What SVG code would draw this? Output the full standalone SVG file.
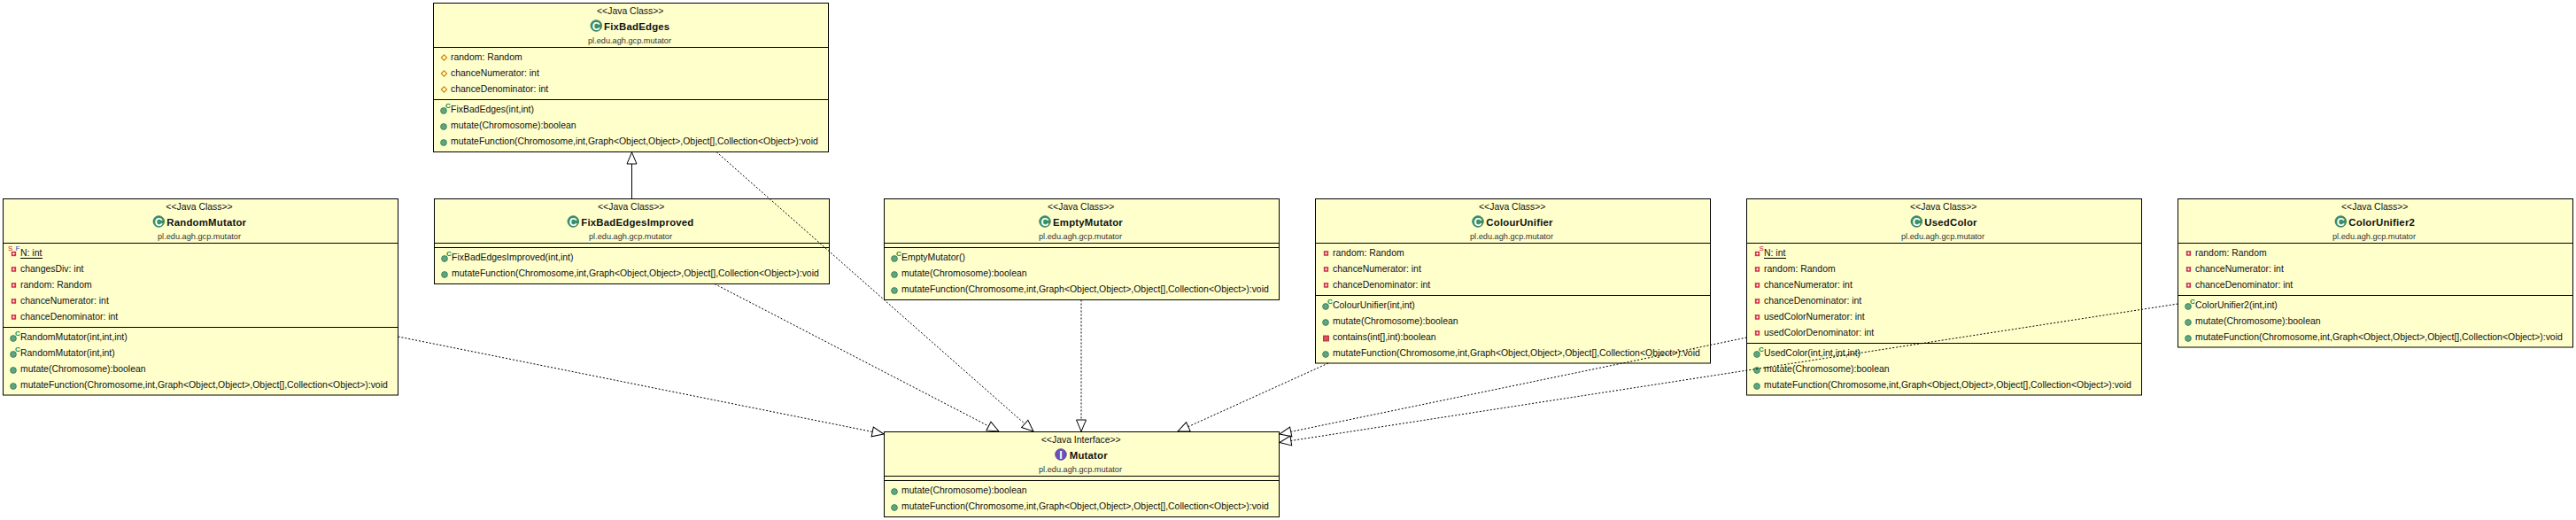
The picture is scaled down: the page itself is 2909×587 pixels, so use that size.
<svg xmlns="http://www.w3.org/2000/svg" xmlns:xlink="http://www.w3.org/1999/xlink" width="2909" height="587" viewBox="0 0 2909 587">
<style>
text{font-family:"Liberation Sans",Arial,sans-serif;fill:#111}
.box{fill:#ffffcc;stroke:#000;stroke-width:1}
.sep{stroke:#000;stroke-width:1}
.st{font-size:10.45px;text-anchor:middle}
.nm{font-size:11.4px;font-weight:bold;letter-spacing:.2px}
.pk{font-size:9.2px;text-anchor:middle;fill:#333}
.m{font-size:10.45px}
.cl{font-size:12.5px;font-weight:bold;fill:#fff;text-anchor:middle}
.k{font-size:8px;font-weight:bold;fill:#0a8a3a}
.s{font-size:8px;fill:#c01040}
.f{font-size:8px;fill:#2050c0}
.u{stroke:#000;stroke-width:1}
.dep{fill:none;stroke:#000;stroke-width:1;stroke-dasharray:2 2;marker-end:url(#tri)}
.gen{fill:none;stroke:#000;stroke-width:1;marker-end:url(#tri)}
</style>
<defs>
<marker id="tri" markerUnits="userSpaceOnUse" markerWidth="16" markerHeight="14" viewBox="0 0 16 14" refX="14.5" refY="7" orient="auto"><path d="M14.5 7 L1.5 1.5 L1.5 12.5 Z" fill="#fff" stroke="#000" stroke-width="1"/></marker>
<circle id="pub" r="3.4" fill="#5fa67e" stroke="#2f7a55" stroke-width=".8"/>
<g id="prv"><rect x="-2.4" y="-2.4" width="4.8" height="4.8" fill="#d8344c" stroke="#b02038" stroke-width=".5"/><path d="M-1.3 0H1.3M0-1.3V1.3" stroke="#fff" stroke-width=".9"/></g>
<rect id="prvm" x="-3" y="-3" width="6" height="6" fill="#e04a5c" stroke="#a8202f" stroke-width=".8"/>
<path id="pro" d="M0-3.2 L3.2 0 L0 3.2 L-3.2 0 Z" fill="#ffffcc" stroke="#c88410" stroke-width="1.1"/>
<g id="cls"><circle r="6.3" fill="#3a9068" stroke="#2a7a55" stroke-width=".8"/></g>
<g id="ifc"><circle r="6.3" fill="#6a50b8" stroke="#503a9a" stroke-width=".8"/></g>
</defs>
<g id="RandomMutator">
<rect class="box" x="3.5" y="224.5" width="446" height="221.5"/>
<path class="sep" d="M3.5 274.5H449.5M3.5 369.5H449.5"/>
<text class="st" x="225" y="236.5">&lt;&lt;Java Class&gt;&gt;</text>
<use href="#cls" x="179.3" y="250"/><text class="cl" x="179.3" y="254.5">C</text>
<text class="nm" x="188.3" y="254.5">RandomMutator</text>
<text class="pk" x="225" y="269.5">pl.edu.agh.gcp.mutator</text>
<use href="#prv" x="15.5" y="286.5"/><text class="s" x="9" y="283">S</text><text class="f" x="17.5" y="283">F</text>
<text class="m" x="23" y="289">N: int</text><path class="u" d="M23 291.5H48"/>
<use href="#prv" x="15.5" y="304"/><text class="m" x="23" y="307">changesDiv: int</text>
<use href="#prv" x="15.5" y="322"/><text class="m" x="23" y="325">random: Random</text>
<use href="#prv" x="15.5" y="340"/><text class="m" x="23" y="343">chanceNumerator: int</text>
<use href="#prv" x="15.5" y="358"/><text class="m" x="23" y="361">chanceDenominator: int</text>
<use href="#pub" x="15" y="382"/><text class="k" x="17" y="379">C</text><text class="m" x="23" y="384">RandomMutator(int,int,int)</text>
<use href="#pub" x="15" y="400"/><text class="k" x="17" y="397">C</text><text class="m" x="23" y="402">RandomMutator(int,int)</text>
<use href="#pub" x="15" y="418"/><text class="m" x="23" y="420">mutate(Chromosome):boolean</text>
<use href="#pub" x="15" y="436"/><text class="m" x="23" y="438">mutateFunction(Chromosome,int,Graph&lt;Object,Object&gt;,Object[],Collection&lt;Object&gt;):void</text>
</g>
<g id="FixBadEdges">
<rect class="box" x="489.5" y="3.5" width="446" height="168"/>
<path class="sep" d="M489.5 53.5H935.5M489.5 112.5H935.5"/>
<text class="st" x="711.7" y="15.5">&lt;&lt;Java Class&gt;&gt;</text>
<use href="#cls" x="673.3" y="29"/><text class="cl" x="673.3" y="33.5">C</text>
<text class="nm" x="682" y="33.5">FixBadEdges</text>
<text class="pk" x="711" y="48.5">pl.edu.agh.gcp.mutator</text>
<use href="#pro" x="501.5" y="65"/><text class="m" x="509" y="68">random: Random</text>
<use href="#pro" x="501.5" y="83"/><text class="m" x="509" y="86">chanceNumerator: int</text>
<use href="#pro" x="501.5" y="101"/><text class="m" x="509" y="104">chanceDenominator: int</text>
<use href="#pub" x="501" y="125"/><text class="k" x="503" y="122">C</text><text class="m" x="509" y="127">FixBadEdges(int,int)</text>
<use href="#pub" x="501" y="143"/><text class="m" x="509" y="145">mutate(Chromosome):boolean</text>
<use href="#pub" x="501" y="161"/><text class="m" x="509" y="163">mutateFunction(Chromosome,int,Graph&lt;Object,Object&gt;,Object[],Collection&lt;Object&gt;):void</text>
</g>
<g id="FixBadEdgesImproved">
<rect class="box" x="490.5" y="224.5" width="446" height="96"/>
<path class="sep" d="M490.5 274.5H936.5M490.5 279.5H936.5"/>
<text class="st" x="712.7" y="236.5">&lt;&lt;Java Class&gt;&gt;</text>
<use href="#cls" x="647.3" y="250"/><text class="cl" x="647.3" y="254.5">C</text>
<text class="nm" x="656.3" y="254.5">FixBadEdgesImproved</text>
<text class="pk" x="712" y="269.5">pl.edu.agh.gcp.mutator</text>
<use href="#pub" x="502" y="292"/><text class="k" x="504" y="289">C</text><text class="m" x="510" y="294">FixBadEdgesImproved(int,int)</text>
<use href="#pub" x="502" y="310"/><text class="m" x="510" y="312">mutateFunction(Chromosome,int,Graph&lt;Object,Object&gt;,Object[],Collection&lt;Object&gt;):void</text>
</g>
<g id="EmptyMutator">
<rect class="box" x="998.5" y="224.5" width="446" height="114"/>
<path class="sep" d="M998.5 274.5H1444.5M998.5 279.5H1444.5"/>
<text class="st" x="1220.7" y="236.5">&lt;&lt;Java Class&gt;&gt;</text>
<use href="#cls" x="1180" y="250"/><text class="cl" x="1180" y="254.5">C</text>
<text class="nm" x="1189" y="254.5">EmptyMutator</text>
<text class="pk" x="1220" y="269.5">pl.edu.agh.gcp.mutator</text>
<use href="#pub" x="1010" y="292"/><text class="k" x="1012" y="289">C</text><text class="m" x="1018" y="294">EmptyMutator()</text>
<use href="#pub" x="1010" y="310"/><text class="m" x="1018" y="312">mutate(Chromosome):boolean</text>
<use href="#pub" x="1010" y="328"/><text class="m" x="1018" y="330">mutateFunction(Chromosome,int,Graph&lt;Object,Object&gt;,Object[],Collection&lt;Object&gt;):void</text>
</g>
<g id="ColourUnifier">
<rect class="box" x="1485.5" y="224.5" width="446" height="185.5"/>
<path class="sep" d="M1485.5 274.5H1931.5M1485.5 333.5H1931.5"/>
<text class="st" x="1707.7" y="236.5">&lt;&lt;Java Class&gt;&gt;</text>
<use href="#cls" x="1669" y="250"/><text class="cl" x="1669" y="254.5">C</text>
<text class="nm" x="1678.3" y="254.5">ColourUnifier</text>
<text class="pk" x="1707" y="269.5">pl.edu.agh.gcp.mutator</text>
<use href="#prv" x="1497.5" y="286"/><text class="m" x="1505" y="289">random: Random</text>
<use href="#prv" x="1497.5" y="304"/><text class="m" x="1505" y="307">chanceNumerator: int</text>
<use href="#prv" x="1497.5" y="322"/><text class="m" x="1505" y="325">chanceDenominator: int</text>
<use href="#pub" x="1497" y="346"/><text class="k" x="1499" y="343">C</text><text class="m" x="1505" y="348">ColourUnifier(int,int)</text>
<use href="#pub" x="1497" y="364"/><text class="m" x="1505" y="366">mutate(Chromosome):boolean</text>
<use href="#prvm" x="1497.5" y="382"/><text class="m" x="1505" y="384">contains(int[],int):boolean</text>
<use href="#pub" x="1497" y="400"/><text class="m" x="1505" y="402">mutateFunction(Chromosome,int,Graph&lt;Object,Object&gt;,Object[],Collection&lt;Object&gt;):void</text>
</g>
<g id="UsedColor">
<rect class="box" x="1972.5" y="224.5" width="446" height="221.5"/>
<path class="sep" d="M1972.5 274.5H2418.5M1972.5 387.5H2418.5"/>
<text class="st" x="2194.7" y="236.5">&lt;&lt;Java Class&gt;&gt;</text>
<use href="#cls" x="2164.3" y="250"/><text class="cl" x="2164.3" y="254.5">C</text>
<text class="nm" x="2173.3" y="254.5">UsedColor</text>
<text class="pk" x="2194" y="269.5">pl.edu.agh.gcp.mutator</text>
<use href="#prv" x="1984.5" y="286.5"/><text class="s" x="1986.5" y="283">S</text>
<text class="m" x="1992" y="289">N: int</text><path class="u" d="M1992 291.5H2017"/>
<use href="#prv" x="1984.5" y="304"/><text class="m" x="1992" y="307">random: Random</text>
<use href="#prv" x="1984.5" y="322"/><text class="m" x="1992" y="325">chanceNumerator: int</text>
<use href="#prv" x="1984.5" y="340"/><text class="m" x="1992" y="343">chanceDenominator: int</text>
<use href="#prv" x="1984.5" y="358"/><text class="m" x="1992" y="361">usedColorNumerator: int</text>
<use href="#prv" x="1984.5" y="376"/><text class="m" x="1992" y="379">usedColorDenominator: int</text>
<use href="#pub" x="1984" y="400"/><text class="k" x="1986" y="397">C</text><text class="m" x="1992" y="402">UsedColor(int,int,int,int)</text>
<use href="#pub" x="1984" y="418"/><text class="m" x="1992" y="420">mutate(Chromosome):boolean</text>
<use href="#pub" x="1984" y="436"/><text class="m" x="1992" y="438">mutateFunction(Chromosome,int,Graph&lt;Object,Object&gt;,Object[],Collection&lt;Object&gt;):void</text>
</g>
<g id="ColorUnifier2">
<rect class="box" x="2459.5" y="224.5" width="446" height="167.5"/>
<path class="sep" d="M2459.5 274.5H2905.5M2459.5 333.5H2905.5"/>
<text class="st" x="2681.7" y="236.5">&lt;&lt;Java Class&gt;&gt;</text>
<use href="#cls" x="2643.3" y="250"/><text class="cl" x="2643.3" y="254.5">C</text>
<text class="nm" x="2652.3" y="254.5">ColorUnifier2</text>
<text class="pk" x="2681" y="269.5">pl.edu.agh.gcp.mutator</text>
<use href="#prv" x="2471.5" y="286"/><text class="m" x="2479" y="289">random: Random</text>
<use href="#prv" x="2471.5" y="304"/><text class="m" x="2479" y="307">chanceNumerator: int</text>
<use href="#prv" x="2471.5" y="322"/><text class="m" x="2479" y="325">chanceDenominator: int</text>
<use href="#pub" x="2471" y="346"/><text class="k" x="2473" y="343">C</text><text class="m" x="2479" y="348">ColorUnifier2(int,int)</text>
<use href="#pub" x="2471" y="364"/><text class="m" x="2479" y="366">mutate(Chromosome):boolean</text>
<use href="#pub" x="2471" y="382"/><text class="m" x="2479" y="384">mutateFunction(Chromosome,int,Graph&lt;Object,Object&gt;,Object[],Collection&lt;Object&gt;):void</text>
</g>
<g id="Mutator">
<rect class="box" x="998.5" y="487.5" width="446" height="96"/>
<path class="sep" d="M998.5 537.5H1444.5M998.5 542.5H1444.5"/>
<text class="st" x="1220.7" y="499.5">&lt;&lt;Java Interface&gt;&gt;</text>
<use href="#ifc" x="1198" y="513"/><text class="cl" x="1198" y="517.5">I</text>
<text class="nm" x="1207.7" y="517.5">Mutator</text>
<text class="pk" x="1220" y="532.5">pl.edu.agh.gcp.mutator</text>
<use href="#pub" x="1010" y="555"/><text class="m" x="1018" y="557">mutate(Chromosome):boolean</text>
<use href="#pub" x="1010" y="573"/><text class="m" x="1018" y="575">mutateFunction(Chromosome,int,Graph&lt;Object,Object&gt;,Object[],Collection&lt;Object&gt;):void</text>
</g>
<g id="connectors">
<path class="dep" d="M449.5 380L998 490"/>
<path class="dep" d="M809 171.5L1167 487"/>
<path class="dep" d="M807 320.5L1128 487"/>
<path class="dep" d="M1221 338.5V487"/>
<path class="dep" d="M1500 410L1330 487"/>
<path class="dep" d="M1972.5 381L1445 490"/>
<path class="dep" d="M2459.5 343L1445 499.5"/>
<path class="gen" d="M713.5 224.5V172"/>
</g>
</svg>
